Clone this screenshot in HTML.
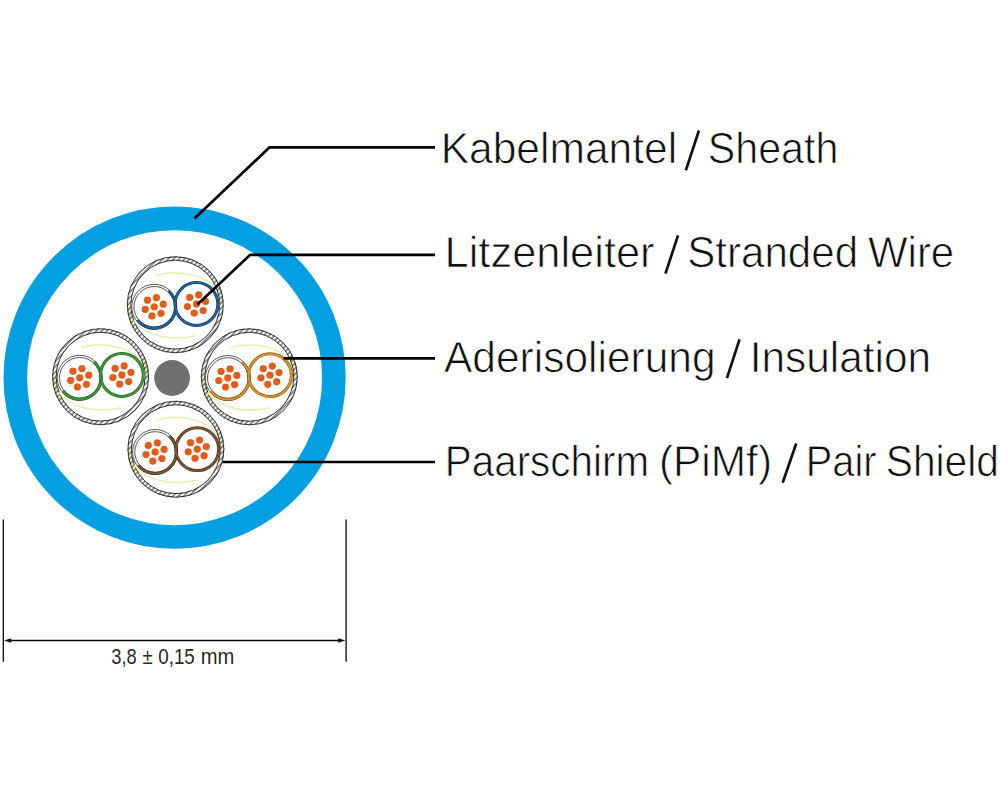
<!DOCTYPE html>
<html><head><meta charset="utf-8"><title>Cable cross-section</title>
<style>
html,body{margin:0;padding:0;background:#fff;width:1000px;height:800px;overflow:hidden}
svg{display:block}
.lab{text-rendering:geometricPrecision;font-family:"Liberation Sans",sans-serif;font-size:43.4px;fill:#111;stroke:#fff;stroke-width:0.75px}
.dim{font-family:"Liberation Sans",sans-serif;font-size:21.5px;fill:#2a2a2a}
</style></head><body>
<svg width="1000" height="800" viewBox="0 0 1000 800">
<rect width="1000" height="800" fill="#fff"/>
<defs><pattern id="hatch" patternUnits="userSpaceOnUse" width="3.8" height="10" patternTransform="rotate(45)"><line x1="1.9" y1="0" x2="1.9" y2="10" stroke="#2a2a2a" stroke-width="1.0"/></pattern></defs>
<circle cx="174.6" cy="377.7" r="159.3" fill="none" stroke="#02a0e2" stroke-width="23.6"/>
<circle cx="175.3" cy="304.7" r="48.5" fill="#fff"/>
<path d="M135.29 327.8A46.2 46.2 0 0 1 129.11 303.89" fill="none" stroke="#eff5c4" stroke-width="4.6"/>
<path d="M217.51 285.91A46.2 46.2 0 0 1 221.49 305.51" fill="none" stroke="#eff5c4" stroke-width="4.6"/>
<circle cx="175.3" cy="304.7" r="46.2" fill="none" stroke="url(#hatch)" stroke-width="4.6"/>
<circle cx="175.3" cy="304.7" r="47.95" fill="none" stroke="#2a2a2a" stroke-width="0.95"/>
<circle cx="175.3" cy="304.7" r="44.45" fill="none" stroke="#2a2a2a" stroke-width="0.95"/>
<path d="M156.1 275.5C170.3 270.7 203.3 271.7 214.8 288.7" fill="none" stroke="#e8f0b2" stroke-width="1.6"/>
<path d="M133.55 320.5C145.3 335.7 170.3 341.7 195.95 335.7" fill="none" stroke="#e8f0b2" stroke-width="1.6"/>
<circle cx="154.25" cy="306.8" r="22.9" fill="#fff"/>
<circle cx="196.45" cy="304" r="22.9" fill="#fff"/>
<circle cx="154.25" cy="306.8" r="22.5" fill="none" stroke="#2a2a2a" stroke-width="0.8"/>
<circle cx="154.25" cy="306.8" r="20.3" fill="none" stroke="#2a2a2a" stroke-width="0.8"/>
<path d="M168.57 290.9A21.4 21.4 0 1 1 137.39 319.98" fill="none" stroke="#123a66" stroke-width="3"/><path d="M168.57 290.9A21.4 21.4 0 1 1 137.39 319.98" fill="none" stroke="#2262a0" stroke-width="1.8"/>
<circle cx="196.45" cy="304" r="21.4" fill="none" stroke="#123a66" stroke-width="3"/><circle cx="196.45" cy="304" r="21.4" fill="none" stroke="#2262a0" stroke-width="1.8"/>
<g fill="#e85b16" stroke="#cf4f14" stroke-width="0.4"><circle cx="154.25" cy="306.8" r="3.4"/><circle cx="156.52" cy="297.68" r="3.4"/><circle cx="163.29" cy="304.21" r="3.4"/><circle cx="161.01" cy="313.33" r="3.4"/><circle cx="151.98" cy="315.92" r="3.4"/><circle cx="145.21" cy="309.39" r="3.4"/><circle cx="147.49" cy="300.27" r="3.4"/></g>
<g fill="#e85b16" stroke="#cf4f14" stroke-width="0.4"><circle cx="196.45" cy="304" r="3.4"/><circle cx="198.72" cy="294.88" r="3.4"/><circle cx="205.49" cy="301.41" r="3.4"/><circle cx="203.21" cy="310.53" r="3.4"/><circle cx="194.18" cy="313.12" r="3.4"/><circle cx="187.41" cy="306.59" r="3.4"/><circle cx="189.69" cy="297.47" r="3.4"/></g>
<circle cx="100.6" cy="376.7" r="48.5" fill="#fff"/>
<path d="M60.59 399.8A46.2 46.2 0 0 1 54.41 375.89" fill="none" stroke="#eff5c4" stroke-width="4.6"/>
<path d="M142.81 357.91A46.2 46.2 0 0 1 146.79 377.51" fill="none" stroke="#eff5c4" stroke-width="4.6"/>
<circle cx="100.6" cy="376.7" r="46.2" fill="none" stroke="url(#hatch)" stroke-width="4.6"/>
<circle cx="100.6" cy="376.7" r="47.95" fill="none" stroke="#2a2a2a" stroke-width="0.95"/>
<circle cx="100.6" cy="376.7" r="44.45" fill="none" stroke="#2a2a2a" stroke-width="0.95"/>
<path d="M81.4 347.5C95.6 342.7 128.6 343.7 140.1 360.7" fill="none" stroke="#e8f0b2" stroke-width="1.6"/>
<path d="M58.85 392.5C70.6 407.7 95.6 413.7 121.25 407.7" fill="none" stroke="#e8f0b2" stroke-width="1.6"/>
<circle cx="79.7" cy="377.8" r="22.9" fill="#fff"/>
<circle cx="121.9" cy="375" r="22.9" fill="#fff"/>
<circle cx="79.7" cy="377.8" r="22.5" fill="none" stroke="#2a2a2a" stroke-width="0.8"/>
<circle cx="79.7" cy="377.8" r="20.3" fill="none" stroke="#2a2a2a" stroke-width="0.8"/>
<path d="M94.02 361.9A21.4 21.4 0 1 1 62.84 390.98" fill="none" stroke="#22631f" stroke-width="3"/><path d="M94.02 361.9A21.4 21.4 0 1 1 62.84 390.98" fill="none" stroke="#3e9b3a" stroke-width="1.8"/>
<circle cx="121.9" cy="375" r="21.4" fill="none" stroke="#22631f" stroke-width="3"/><circle cx="121.9" cy="375" r="21.4" fill="none" stroke="#3e9b3a" stroke-width="1.8"/>
<g fill="#e85b16" stroke="#cf4f14" stroke-width="0.4"><circle cx="79.7" cy="377.8" r="3.4"/><circle cx="81.97" cy="368.68" r="3.4"/><circle cx="88.74" cy="375.21" r="3.4"/><circle cx="86.46" cy="384.33" r="3.4"/><circle cx="77.43" cy="386.92" r="3.4"/><circle cx="70.66" cy="380.39" r="3.4"/><circle cx="72.94" cy="371.27" r="3.4"/></g>
<g fill="#e85b16" stroke="#cf4f14" stroke-width="0.4"><circle cx="121.9" cy="375" r="3.4"/><circle cx="124.17" cy="365.88" r="3.4"/><circle cx="130.94" cy="372.41" r="3.4"/><circle cx="128.66" cy="381.53" r="3.4"/><circle cx="119.63" cy="384.12" r="3.4"/><circle cx="112.86" cy="377.59" r="3.4"/><circle cx="115.14" cy="368.47" r="3.4"/></g>
<circle cx="249.3" cy="376.8" r="48.5" fill="#fff"/>
<path d="M209.29 399.9A46.2 46.2 0 0 1 203.11 375.99" fill="none" stroke="#eff5c4" stroke-width="4.6"/>
<path d="M291.51 358.01A46.2 46.2 0 0 1 295.49 377.61" fill="none" stroke="#eff5c4" stroke-width="4.6"/>
<circle cx="249.3" cy="376.8" r="46.2" fill="none" stroke="url(#hatch)" stroke-width="4.6"/>
<circle cx="249.3" cy="376.8" r="47.95" fill="none" stroke="#2a2a2a" stroke-width="0.95"/>
<circle cx="249.3" cy="376.8" r="44.45" fill="none" stroke="#2a2a2a" stroke-width="0.95"/>
<path d="M230.1 347.6C244.3 342.8 277.3 343.8 288.8 360.8" fill="none" stroke="#e8f0b2" stroke-width="1.6"/>
<path d="M207.55 392.6C219.3 407.8 244.3 413.8 269.95 407.8" fill="none" stroke="#e8f0b2" stroke-width="1.6"/>
<circle cx="227.8" cy="378" r="22.9" fill="#fff"/>
<circle cx="270" cy="375.2" r="22.9" fill="#fff"/>
<circle cx="227.8" cy="378" r="22.5" fill="none" stroke="#2a2a2a" stroke-width="0.8"/>
<circle cx="227.8" cy="378" r="20.3" fill="none" stroke="#2a2a2a" stroke-width="0.8"/>
<path d="M242.12 362.1A21.4 21.4 0 1 1 210.94 391.18" fill="none" stroke="#875418" stroke-width="3"/><path d="M242.12 362.1A21.4 21.4 0 1 1 210.94 391.18" fill="none" stroke="#e0962a" stroke-width="1.8"/>
<circle cx="270" cy="375.2" r="21.4" fill="none" stroke="#875418" stroke-width="3"/><circle cx="270" cy="375.2" r="21.4" fill="none" stroke="#e0962a" stroke-width="1.8"/>
<g fill="#e85b16" stroke="#cf4f14" stroke-width="0.4"><circle cx="227.8" cy="378" r="3.4"/><circle cx="230.07" cy="368.88" r="3.4"/><circle cx="236.84" cy="375.41" r="3.4"/><circle cx="234.56" cy="384.53" r="3.4"/><circle cx="225.53" cy="387.12" r="3.4"/><circle cx="218.76" cy="380.59" r="3.4"/><circle cx="221.04" cy="371.47" r="3.4"/></g>
<g fill="#e85b16" stroke="#cf4f14" stroke-width="0.4"><circle cx="270" cy="375.2" r="3.4"/><circle cx="272.27" cy="366.08" r="3.4"/><circle cx="279.04" cy="372.61" r="3.4"/><circle cx="276.76" cy="381.73" r="3.4"/><circle cx="267.73" cy="384.32" r="3.4"/><circle cx="260.96" cy="377.79" r="3.4"/><circle cx="263.24" cy="368.67" r="3.4"/></g>
<circle cx="175.9" cy="449.2" r="48.5" fill="#fff"/>
<path d="M135.89 472.3A46.2 46.2 0 0 1 129.71 448.39" fill="none" stroke="#eff5c4" stroke-width="4.6"/>
<path d="M218.11 430.41A46.2 46.2 0 0 1 222.09 450.01" fill="none" stroke="#eff5c4" stroke-width="4.6"/>
<circle cx="175.9" cy="449.2" r="46.2" fill="none" stroke="url(#hatch)" stroke-width="4.6"/>
<circle cx="175.9" cy="449.2" r="47.95" fill="none" stroke="#2a2a2a" stroke-width="0.95"/>
<circle cx="175.9" cy="449.2" r="44.45" fill="none" stroke="#2a2a2a" stroke-width="0.95"/>
<path d="M156.7 420C170.9 415.2 203.9 416.2 215.4 433.2" fill="none" stroke="#e8f0b2" stroke-width="1.6"/>
<path d="M134.15 465C145.9 480.2 170.9 486.2 196.55 480.2" fill="none" stroke="#e8f0b2" stroke-width="1.6"/>
<circle cx="155.1" cy="452" r="22.9" fill="#fff"/>
<circle cx="197.3" cy="449.2" r="22.9" fill="#fff"/>
<circle cx="155.1" cy="452" r="22.5" fill="none" stroke="#2a2a2a" stroke-width="0.8"/>
<circle cx="155.1" cy="452" r="20.3" fill="none" stroke="#2a2a2a" stroke-width="0.8"/>
<path d="M169.42 436.1A21.4 21.4 0 1 1 138.24 465.18" fill="none" stroke="#4b301b" stroke-width="3"/><path d="M169.42 436.1A21.4 21.4 0 1 1 138.24 465.18" fill="none" stroke="#7d5535" stroke-width="1.8"/>
<circle cx="197.3" cy="449.2" r="21.4" fill="none" stroke="#4b301b" stroke-width="3"/><circle cx="197.3" cy="449.2" r="21.4" fill="none" stroke="#7d5535" stroke-width="1.8"/>
<g fill="#e85b16" stroke="#cf4f14" stroke-width="0.4"><circle cx="155.1" cy="452" r="3.4"/><circle cx="157.37" cy="442.88" r="3.4"/><circle cx="164.14" cy="449.41" r="3.4"/><circle cx="161.86" cy="458.53" r="3.4"/><circle cx="152.83" cy="461.12" r="3.4"/><circle cx="146.06" cy="454.59" r="3.4"/><circle cx="148.34" cy="445.47" r="3.4"/></g>
<g fill="#e85b16" stroke="#cf4f14" stroke-width="0.4"><circle cx="197.3" cy="449.2" r="3.4"/><circle cx="199.57" cy="440.08" r="3.4"/><circle cx="206.34" cy="446.61" r="3.4"/><circle cx="204.06" cy="455.73" r="3.4"/><circle cx="195.03" cy="458.32" r="3.4"/><circle cx="188.26" cy="451.79" r="3.4"/><circle cx="190.54" cy="442.67" r="3.4"/></g>
<circle cx="172.1" cy="378" r="17.9" fill="#707070"/>
<g fill="none" stroke="#000" stroke-width="2.7" stroke-linejoin="miter">
<polyline points="194.5,218.5 269.4,147.4 435,147.4"/>
<polyline points="197.4,304.5 250.2,254.8 435,254.8"/>
<polyline points="283.5,358.4 435,358.4"/>
<polyline points="222.5,462 435,462"/>
</g>
<g stroke="#0a0a0a" stroke-width="1.3" fill="none">
<line x1="3.3" y1="519.5" x2="3.3" y2="661.8"/>
<line x1="346.1" y1="519.5" x2="346.1" y2="661.8"/>
<line x1="9" y1="640.5" x2="340" y2="640.5"/>
</g>
<path d="M3.9 640.5L11.2 638.2L11.2 642.8Z M345.5 640.5L338.2 638.2L338.2 642.8Z" fill="#111"/>
<text x="440.64" y="163" textLength="236.58" lengthAdjust="spacingAndGlyphs" class="lab">Kabelmantel</text>
<text x="707.77" y="163" textLength="130.52" lengthAdjust="spacingAndGlyphs" class="lab">Sheath</text>
<text x="444.56" y="267" textLength="210.03" lengthAdjust="spacingAndGlyphs" class="lab">Litzenleiter</text>
<text x="687.22" y="267" textLength="170.85" lengthAdjust="spacingAndGlyphs" class="lab">Stranded</text>
<text x="867.94" y="267" textLength="86.28" lengthAdjust="spacingAndGlyphs" class="lab">Wire</text>
<text x="444.04" y="372" textLength="271.56" lengthAdjust="spacingAndGlyphs" class="lab">Aderisolierung</text>
<text x="749.71" y="372" textLength="181.41" lengthAdjust="spacingAndGlyphs" class="lab">Insulation</text>
<text x="444.81" y="476" textLength="204.23" lengthAdjust="spacingAndGlyphs" class="lab">Paarschirm</text>
<text x="658.99" y="476" textLength="113.02" lengthAdjust="spacingAndGlyphs" class="lab">(PiMf)</text>
<text x="805.87" y="476" textLength="70.67" lengthAdjust="spacingAndGlyphs" class="lab">Pair</text>
<text x="885.78" y="476" textLength="113.21" lengthAdjust="spacingAndGlyphs" class="lab">Shield</text>
<text x="111.29" y="663.7" textLength="25.52" lengthAdjust="spacingAndGlyphs" class="dim">3,8</text>
<text x="142.41" y="663.7" textLength="10.17" lengthAdjust="spacingAndGlyphs" class="dim">±</text>
<text x="158.26" y="663.7" textLength="36.54" lengthAdjust="spacingAndGlyphs" class="dim">0,15</text>
<text x="200.66" y="663.7" textLength="33.67" lengthAdjust="spacingAndGlyphs" class="dim">mm</text>
<line x1="685.86" y1="170.3" x2="698.94" y2="130.5" stroke="#111" stroke-width="2.7"/>
<line x1="665.46" y1="273.7" x2="678.04" y2="235.3" stroke="#111" stroke-width="2.7"/>
<line x1="726.96" y1="378.2" x2="739.54" y2="339.3" stroke="#111" stroke-width="2.7"/>
<line x1="782.66" y1="482.7" x2="796.24" y2="443.5" stroke="#111" stroke-width="2.7"/>
</svg>
</body></html>
